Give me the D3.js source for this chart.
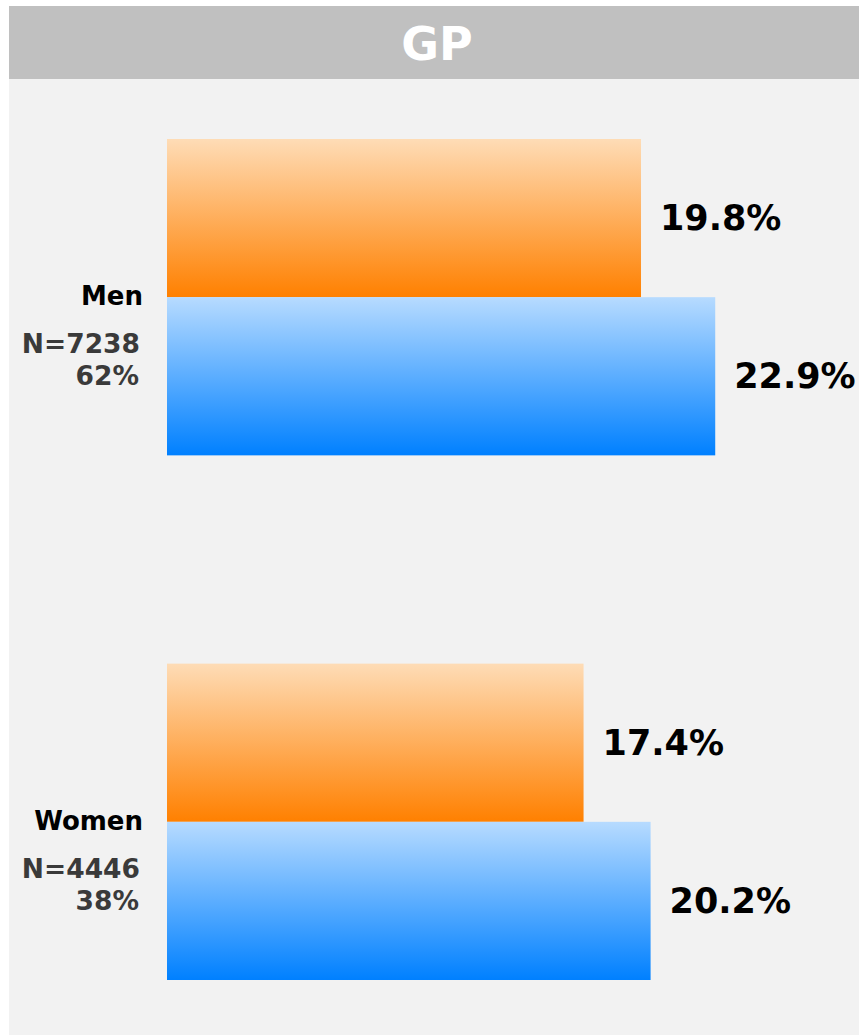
<!DOCTYPE html>
<html>
<head>
    <script src="https://d3js.org/d3.v7.min.js"></script>
    <style>
        body { margin: 0; background: #fff; }
        text { font-family: "DejaVu Sans", Verdana, sans-serif; font-weight: bold; }
    </style>
</head>
<body>
    <svg width="859" height="1035"></svg>

    <script>
        // Chart data
        const title = "GP";
        const groups = ["Men", "Women"];
        const groupN = ["N=7238", "N=4446"];
        const groupShare = ["62%", "38%"];
        const series = ["orange", "blue"];
        const valuesOrange = [19.8, 17.4];
        const valuesBlue = [22.9, 20.2];

        const svg = d3.select("svg");
        const width = +svg.attr("width");
        const height = +svg.attr("height");

        const defs = svg.append("defs");
        const gradColors = {
            orange: ["#fedcb6", "#ff8000"],
            blue: ["#b7dbff", "#0080ff"]
        };
        Object.keys(gradColors).forEach(k => {
            const g = defs.append("linearGradient")
                .attr("id", "grad-" + k)
                .attr("x1", 0).attr("y1", 0).attr("x2", 0).attr("y2", 1);
            g.append("stop").attr("offset", "0%").attr("stop-color", gradColors[k][0]);
            g.append("stop").attr("offset", "100%").attr("stop-color", gradColors[k][1]);
        });

        // panel background + title bar
        svg.append("rect")
            .attr("x", 9).attr("y", 6)
            .attr("width", width - 9).attr("height", 1029)
            .attr("fill", "#f2f2f2");
        svg.append("rect")
            .attr("x", 9).attr("y", 6)
            .attr("width", width - 9).attr("height", 73)
            .attr("fill", "#c0c0c0");
        svg.append("text")
            .attr("x", 437).attr("y", 44)
            .attr("text-anchor", "middle")
            .attr("dominant-baseline", "central")
            .attr("font-size", 46)
            .attr("fill", "#fff")
            .text(title);

        // scales
        const x = d3.scaleLinear().domain([0, 25]).range([167, 167 + 25 * 23.94]);
        const y = d3.scaleBand().domain(groups).range([139, 980]).paddingInner(0.397).paddingOuter(0);
        const ySub = d3.scaleBand().domain(series).range([0, y.bandwidth()]);

        const rows = groups.map((g, i) => ({
            group: g,
            n: groupN[i],
            share: groupShare[i],
            bars: [
                { s: "orange", v: valuesOrange[i] },
                { s: "blue", v: valuesBlue[i] }
            ]
        }));

        const grp = svg.append("g")
            .selectAll("g")
            .data(rows)
            .enter().append("g")
            .attr("transform", d => `translate(0,${y(d.group)})`);

        grp.selectAll("rect")
            .data(d => d.bars)
            .enter().append("rect")
            .attr("x", x(0))
            .attr("y", d => ySub(d.s))
            .attr("width", d => x(d.v) - x(0))
            .attr("height", ySub.bandwidth())
            .attr("fill", d => `url(#grad-${d.s})`);

        grp.selectAll("text.val")
            .data(d => d.bars)
            .enter().append("text")
            .attr("class", "val")
            .attr("x", d => x(d.v) + 19)
            .attr("y", d => ySub(d.s) + ySub.bandwidth() / 2)
            .attr("dominant-baseline", "central")
            .attr("font-size", 35)
            .attr("fill", "#000")
            .text(d => d.v.toFixed(1) + "%");

        // category labels
        const mid = y.bandwidth() / 2;
        grp.append("text")
            .attr("x", 143)
            .attr("y", mid + 8)
            .attr("text-anchor", "end")
            .attr("font-size", 26)
            .attr("fill", "#000")
            .text(d => d.group);
        grp.append("text")
            .attr("x", 140)
            .attr("y", mid + 56)
            .attr("text-anchor", "end")
            .attr("font-size", 26.5)
            .attr("fill", "#3a3a3a")
            .text(d => d.n);
        grp.append("text")
            .attr("x", 139)
            .attr("y", mid + 88)
            .attr("text-anchor", "end")
            .attr("font-size", 26.5)
            .attr("fill", "#3a3a3a")
            .text(d => d.share);
    </script>
</body>
</html>
